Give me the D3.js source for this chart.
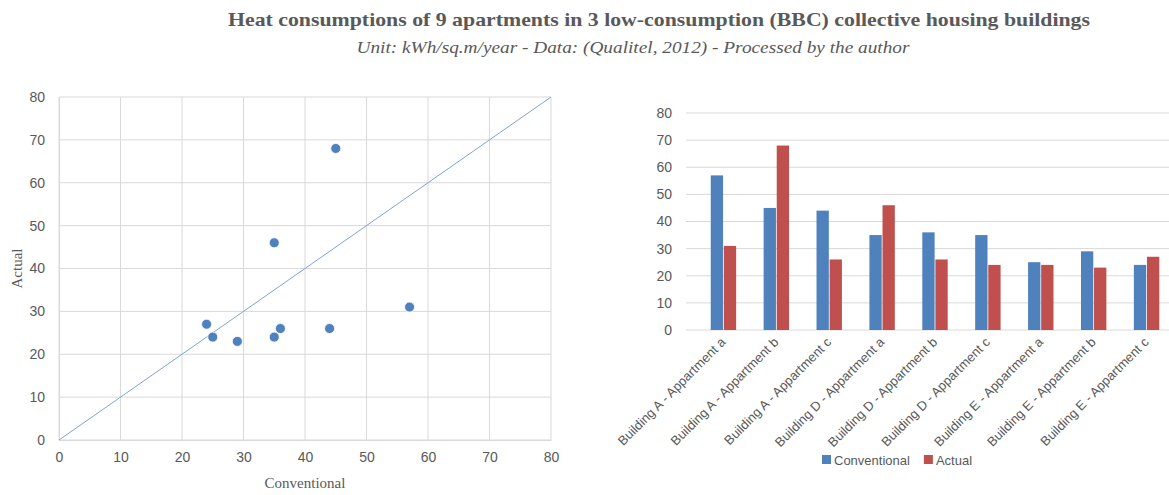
<!DOCTYPE html>
<html>
<head>
<meta charset="utf-8">
<script src="https://cdn.jsdelivr.net/npm/d3@7"></script>
<style>
  body { margin: 0; background: #fff; }
  svg text { fill: #595959; }
</style>
</head>
<body>
<div id="chart"></div>
<script>
// data
const categories = [
  "Building A - Appartment a", "Building A - Appartment b", "Building A - Appartment c",
  "Building D - Appartment a", "Building D - Appartment b", "Building D - Appartment c",
  "Building E - Appartment a", "Building E - Appartment b", "Building E - Appartment c"
];
const conventional = [57, 45, 44, 35, 36, 35, 25, 29, 24];
const actual = [31, 68, 26, 46, 26, 24, 24, 23, 27];
const seriesNames = ["Conventional", "Actual"];
const axisTicks = [0, 10, 20, 30, 40, 50, 60, 70, 80];

const colors = { Conventional: "#4F81BD", Actual: "#C0504D" };
const gridColor = "#D9D9D9";
const tickFont = "Liberation Sans, Arial, sans-serif";
const serifFont = "Liberation Serif, Times New Roman, serif";

const W = 1169, H = 495;
const svg = d3.select("#chart").append("svg")
  .attr("width", W)
  .attr("height", H);

// titles
svg.append("text")
  .attr("x", 659).attr("y", 26)
  .attr("text-anchor", "middle")
  .attr("font-family", serifFont)
  .attr("font-weight", "bold")
  .attr("font-size", 19)
  .attr("textLength", 862).attr("lengthAdjust", "spacingAndGlyphs")
  .text("Heat consumptions of 9 apartments in 3 low-consumption (BBC) collective housing buildings");

svg.append("text")
  .attr("x", 633).attr("y", 53)
  .attr("text-anchor", "middle")
  .attr("font-family", serifFont)
  .attr("font-style", "italic")
  .attr("font-size", 16)
  .attr("textLength", 553).attr("lengthAdjust", "spacingAndGlyphs")
  .text("Unit: kWh/sq.m/year - Data: (Qualitel, 2012) - Processed by the author");

// ---- scatter: conventional vs actual ----
const sx = d3.scaleLinear().domain([0, 80]).range([59, 551]);
const sy = d3.scaleLinear().domain([0, 80]).range([440, 97]);

const scatter = svg.append("g").attr("class", "scatter");

scatter.append("g")
  .selectAll("line")
  .data(axisTicks)
  .join("line")
  .attr("x1", sx(0)).attr("x2", sx(80))
  .attr("y1", d => sy(d)).attr("y2", d => sy(d))
  .attr("stroke", gridColor).attr("stroke-width", 1);

scatter.append("g")
  .selectAll("line")
  .data(axisTicks)
  .join("line")
  .attr("y1", sy(0)).attr("y2", sy(80))
  .attr("x1", d => sx(d)).attr("x2", d => sx(d))
  .attr("stroke", gridColor).attr("stroke-width", 1);

// axes (labels only, Excel style)
const sxAxis = scatter.append("g")
  .attr("transform", `translate(0,${sy(0)})`)
  .call(d3.axisBottom(sx).tickValues(axisTicks).tickSize(0).tickPadding(12));
const syAxis = scatter.append("g")
  .attr("transform", `translate(${sx(0)},0)`)
  .call(d3.axisLeft(sy).tickValues(axisTicks).tickSize(0).tickPadding(14));
[sxAxis, syAxis].forEach(a => {
  a.select(".domain").attr("stroke", gridColor);
  a.selectAll("text").attr("font-family", tickFont).attr("font-size", 14).attr("fill", "#595959");
});

// reference line y = x
scatter.append("line")
  .attr("x1", sx(0)).attr("y1", sy(0))
  .attr("x2", sx(80)).attr("y2", sy(80))
  .attr("stroke", "#7EA3D3").attr("stroke-width", 1);

const points = conventional.map((c, i) => ({ x: c, y: actual[i] }));
scatter.append("g")
  .selectAll("circle")
  .data(points)
  .join("circle")
  .attr("cx", d => sx(d.x))
  .attr("cy", d => sy(d.y))
  .attr("r", 5)
  .attr("fill", colors.Conventional)
  .attr("stroke", "#fff").attr("stroke-width", 0.8);

scatter.append("text")
  .attr("x", (sx(0) + sx(80)) / 2).attr("y", 488)
  .attr("text-anchor", "middle")
  .attr("font-family", serifFont).attr("font-size", 15)
  .text("Conventional");

scatter.append("text")
  .attr("transform", `translate(22,${(sy(0) + sy(80)) / 2}) rotate(-90)`)
  .attr("text-anchor", "middle")
  .attr("font-family", serifFont).attr("font-size", 15)
  .text("Actual");

// ---- grouped bars ----
const bx = d3.scaleBand().domain(categories).range([697, 1173]).paddingInner(0.49).paddingOuter(0.245);
const bx1 = d3.scaleBand().domain(seriesNames).range([0, bx.bandwidth()]).padding(0.06);
const by = d3.scaleLinear().domain([0, 80]).range([330, 113]);

const bars = svg.append("g").attr("class", "bars");

bars.append("g")
  .selectAll("line")
  .data(axisTicks)
  .join("line")
  .attr("x1", 686).attr("x2", W)
  .attr("y1", d => by(d)).attr("y2", d => by(d))
  .attr("stroke", gridColor).attr("stroke-width", 1);

const byAxis = bars.append("g")
  .attr("transform", "translate(686,0)")
  .call(d3.axisLeft(by).tickValues(axisTicks).tickSize(0).tickPadding(14));
byAxis.select(".domain").remove();
byAxis.selectAll("text").attr("font-family", tickFont).attr("font-size", 14).attr("fill", "#595959");

const rows = categories.map((c, i) => ({
  cat: c,
  vals: [
    { key: "Conventional", v: conventional[i] },
    { key: "Actual", v: actual[i] }
  ]
}));

bars.append("g")
  .selectAll("g")
  .data(rows)
  .join("g")
  .attr("transform", d => `translate(${bx(d.cat)},0)`)
  .selectAll("rect")
  .data(d => d.vals)
  .join("rect")
  .attr("x", d => bx1(d.key))
  .attr("width", bx1.bandwidth())
  .attr("y", d => by(d.v))
  .attr("height", d => by(0) - by(d.v))
  .attr("fill", d => colors[d.key]);

// rotated category labels
bars.append("g")
  .selectAll("text")
  .data(categories)
  .join("text")
  .attr("transform", d => `translate(${bx(d) + bx.bandwidth() / 2 + 3},${by(0) + 13}) rotate(-45)`)
  .attr("text-anchor", "end")
  .attr("font-family", tickFont)
  .attr("font-size", 13)
  .text(d => d);

// legend
const legend = bars.append("g").attr("transform", "translate(822,460)");
let lx = 0;
seriesNames.forEach(name => {
  legend.append("rect")
    .attr("x", lx).attr("y", -5)
    .attr("width", 9).attr("height", 9)
    .attr("fill", colors[name]);
  const t = legend.append("text")
    .attr("x", lx + 12).attr("y", 4.5)
    .attr("font-family", tickFont).attr("font-size", 13)
    .text(name);
  lx += 12 + t.node().getComputedTextLength() + 14;
});
</script>
</body>
</html>
